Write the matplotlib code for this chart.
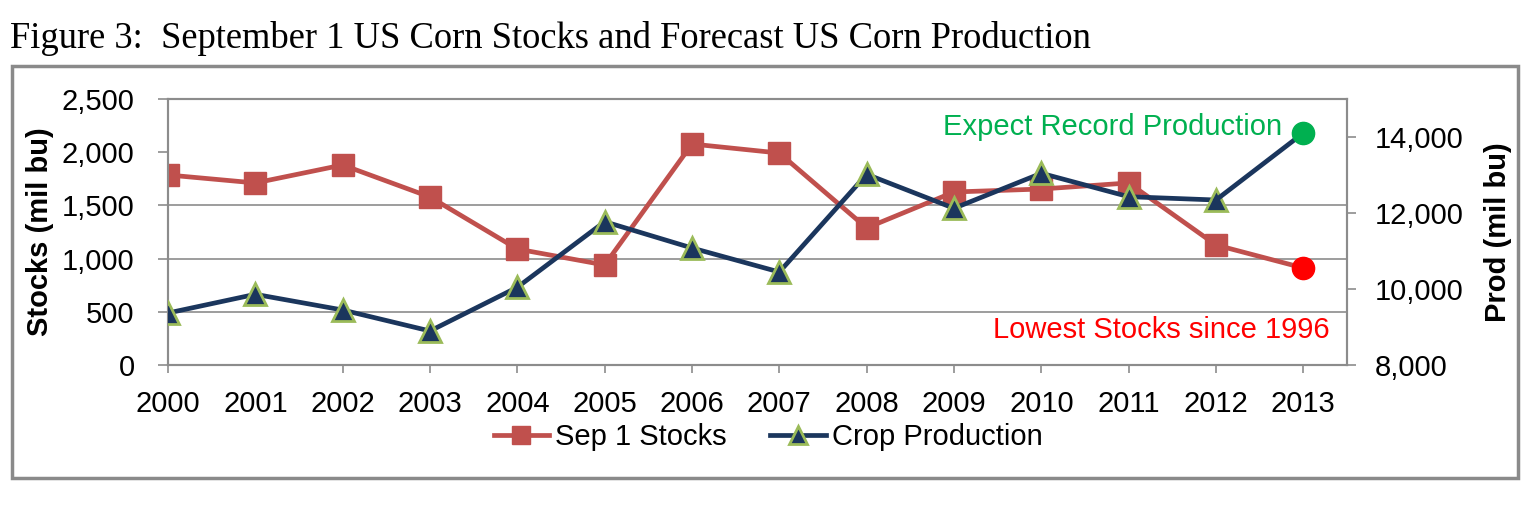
"""September 1 US corn stocks against forecast US corn production, 2000-2013."""
import matplotlib
matplotlib.use("Agg")
import matplotlib.pyplot as plt
from matplotlib.patches import Rectangle

STOCKS_COLOUR = "#C0504D"
PROD_COLOUR = "#1B365D"
PROD_EDGE = "#9BBB59"
GRID_COLOUR = "#8C8C8C"

years = ["2000", "2001", "2002", "2003", "2004", "2005", "2006",
         "2007", "2008", "2009", "2010", "2011", "2012", "2013"]
stocks = [1786, 1711, 1880, 1579, 1090, 940, 2077,
          1992, 1288, 1626, 1654, 1711, 1128, 912]
production = [9368, 9860, 9447, 8895, 10045, 11771, 11079,
              10447, 13018, 12124, 13045, 12429, 12342, 14105]

stock_ticks = [0, 500, 1000, 1500, 2000, 2500]
stock_grid = [500, 1000, 1500]
prod_ticks = [8000, 10000, 12000, 14000]

plt.rcParams["font.family"] = ["Liberation Sans", "DejaVu Sans"]
FS = 21


def main() -> None:
    fig = plt.figure(figsize=(15.3, 5.11), dpi=100)
    W, H = 1530, 511

    fig.text(10 / W, 1 - 38 / H, "Figure 3:  September 1 US Corn Stocks and Forecast US Corn Production",
             family=["Liberation Serif", "DejaVu Serif"], fontsize=26.3, va="center", ha="left")
    fig.patches.append(Rectangle((12 / W, 1 - 478 / H), (1518 - 12) / W, (478 - 66) / H,
                                 transform=fig.transFigure, fill=False,
                                 edgecolor="#8A8A8A", linewidth=2.5))

    ax = fig.add_axes([168 / W, 1 - 365 / H, (1347 - 168) / W, (365 - 99) / H])
    ax2 = ax.twinx()
    x = list(range(len(years)))

    # gridlines and frame
    for v in stock_grid:
        ax.axhline(v, color=GRID_COLOUR, linewidth=1.2, zorder=0)
    for a in (ax, ax2):
        for side in ["left", "right", "top", "bottom"]:
            a.spines[side].set_color(GRID_COLOUR)
            a.spines[side].set_linewidth(1.5)

    ln1, = ax.plot(x[:-1], stocks[:-1], color=STOCKS_COLOUR, linewidth=3.4, marker="s",
                   markersize=16, label="Sep 1 Stocks", zorder=3)
    ax.plot(x[-2:], stocks[-2:], color=STOCKS_COLOUR, linewidth=3.4, zorder=3)
    ax.plot(x[-1], stocks[-1], "o", color="#FF0000", markersize=16, zorder=4)

    ln2, = ax2.plot(x[:-1], production[:-1], color=PROD_COLOUR, linewidth=3.4, marker="^",
                    markersize=16, markerfacecolor=PROD_COLOUR, markeredgecolor=PROD_EDGE,
                    markeredgewidth=2, label="Crop Production", zorder=3)
    ax2.plot(x[-2:], production[-2:], color=PROD_COLOUR, linewidth=3.4, zorder=3)
    ax2.plot(x[-1], production[-1], "o", color="#00B050", markersize=16, zorder=4)

    ax.set_xlim(0, 13.5)
    ax.set_ylim(0, 2500)
    ax2.set_ylim(8000, 15000)
    ax.set_xticks(x)
    ax.set_xticklabels(years)
    ax.set_yticks(stock_ticks)
    ax.set_yticklabels([f"{v:,}" for v in stock_ticks])
    ax2.set_yticks(prod_ticks)
    ax2.set_yticklabels([f"{v:,}" for v in prod_ticks])

    ax.tick_params(axis="x", length=6, width=1.2, color=GRID_COLOUR, pad=12, labelsize=FS)
    ax.tick_params(axis="y", length=7, width=1.2, color=GRID_COLOUR, pad=17, labelsize=FS)
    ax2.tick_params(axis="y", length=6.5, width=1.2, color=GRID_COLOUR, pad=13.5, labelsize=FS)
    ax.xaxis.get_major_ticks()[1].tick1line.set_visible(False)

    ax.set_ylabel("Stocks (mil bu)", fontsize=FS, fontweight="bold")
    ax.yaxis.set_label_coords((54 - 168) / (1347 - 168), 0.5)
    ax2.set_ylabel("Prod (mil bu)", fontsize=FS, fontweight="bold")
    ax2.yaxis.set_label_coords((1484 - 168) / (1347 - 168), 0.5)

    ax2.text(1282 / W, 1 - 127 / H, "Expect Record Production", transform=fig.transFigure,
             color="#00B050", fontsize=FS, ha="right", va="center")
    ax2.text(1330 / W, 1 - 330 / H, "Lowest Stocks since 1996", transform=fig.transFigure,
             color="#FF0000", fontsize=FS, ha="right", va="center")

    fig.legend([ln1, ln2], ["Sep 1 Stocks", "Crop Production"], loc="center",
               bbox_to_anchor=(768 / W, 1 - 437 / H), ncol=2, frameon=False, fontsize=FS,
               handlelength=1.9, handletextpad=0.2, columnspacing=1.5, markerscale=0.85)

    fig.savefig("out.png", dpi=100)
    plt.close(fig)


if __name__ == "__main__":
    main()
